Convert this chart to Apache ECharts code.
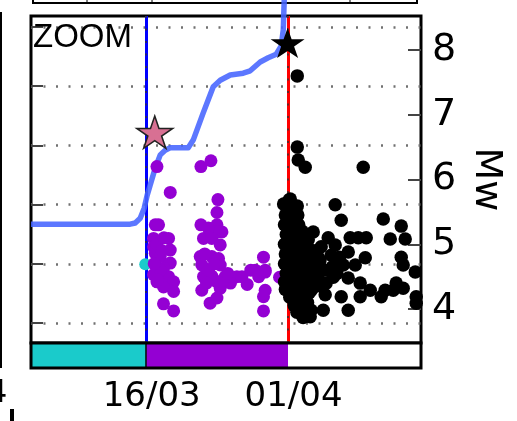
<!DOCTYPE html>
<html><head><meta charset="utf-8">
<script src="https://cdn.jsdelivr.net/npm/echarts@6/dist/echarts.min.js"></script>
<style>html,body{margin:0;padding:0;background:#fff}#c{width:517px;height:421px}</style>
</head><body><div id="c"></div>
<script>
// x values are days since 01/03 00:00 (16/03 = 15, 01/04 = 31)
const dayMin = 2, dayMax = 46;
const xTickDays = [15, 31];
const xTickLabels = ['16/03', '01/04'];
const mwMin = 3.475, mwMax = 8.525;
const mwTicks = [4, 5, 6, 7, 8];
const momentMin = 15.662, momentMax = 21.186;
const momentTicks = [16, 17, 18, 19, 20, 21];
const phaseBounds = [2, 15, 31, 46];
const phaseColors = ['#1acbcb', '#9400d3', '#ffffff'];

// cumulative (log) seismic moment curve
const cumDays = [2.0, 13.19, 13.76, 14.32, 14.77, 15.11, 15.45, 16.02, 16.58, 17.14, 17.71, 19.74, 20.30, 21.43, 22.56, 23.35, 24.48, 25.94, 26.73, 27.86, 28.76, 29.67, 30.23, 30.46, 30.57];
const cumMoment = [17.67, 17.67, 17.69, 17.77, 17.94, 18.16, 18.33, 18.62, 18.84, 18.92, 18.96, 18.96, 19.09, 19.55, 19.99, 20.10, 20.19, 20.22, 20.26, 20.41, 20.48, 20.54, 20.68, 20.95, 21.46];

// events [day, Mw]
const backgroundEvents = [[14.89, 4.69]];
const foreshockEvents = [
  [16.21,6.20],[21.17,6.20],[22.30,6.29],[17.71,5.80],[23.09,5.69],[22.98,5.49],
  [16.02,5.30],[16.39,5.30],[21.17,5.30],[22.98,5.30],[23.54,5.19],[23.12,5.19],
  [15.83,5.09],[17.52,5.09],[21.46,5.09],[22.40,5.09],[15.83,4.96],[23.35,4.99],
  [17.71,4.91],[16.02,4.86],[16.58,4.81],[21.09,4.81],[22.40,4.81],[23.16,4.78],
  [28.23,4.80],[17.71,4.71],[16.02,4.68],[21.27,4.68],[23.35,4.68],[16.95,4.63],
  [27.31,4.60],[28.42,4.60],[28.42,4.57],[15.83,4.53],[17.52,4.50],[21.46,4.50],
  [22.40,4.51],[23.91,4.50],[25.23,4.50],[27.69,4.50],[30.04,4.49],[16.21,4.42],
  [18.09,4.42],[22.98,4.42],[24.51,4.40],[26.39,4.38],[16.95,4.34],[21.27,4.29],
  [23.35,4.32],[18.09,4.27],[28.42,4.29],[28.23,4.19],[22.21,4.09],[22.98,4.17],
  [16.95,4.08],[18.09,3.97],[28.23,3.97],
  [16.2,5.0],[16.6,4.6],[16.3,4.45],[17.0,5.1],[15.9,4.7],[16.8,4.9],[21.6,4.85],
  [22.0,4.6],[21.8,4.4],[22.7,4.7],[23.7,4.45],[22.0,5.25],[24.2,4.55],[25.8,4.5],[26.8,4.6]
];
const aftershockEvents = [
  [32.04,7.60],[32.04,6.50],[32.15,6.30],[32.94,6.19],[39.48,6.19],[31.25,5.70],[32.04,5.59],[36.32,5.61],
  [37.00,5.37],[41.74,5.39],[43.77,5.28],[33.84,5.19],[35.53,5.10],[38.01,5.10],[38.92,5.10],[39.82,5.10],
  [42.53,5.08],[44.22,5.08],[33.28,5.07],[34.74,4.96],[36.32,4.99],[37.79,4.88],[34.40,4.80],[35.87,4.83],
  [39.71,4.79],[43.77,4.80],[43.99,4.68],[38.58,4.68],[37.22,4.68],[34.74,4.63],[45.35,4.57],[36.10,4.49],
  [37.79,4.48],[34.40,4.45],[39.14,4.40],[43.20,4.40],[40.27,4.29],[41.96,4.29],[42.87,4.29],[43.99,4.32],
  [45.46,4.19],[45.46,4.09],[37.00,4.19],[39.14,4.19],[41.51,4.19],[35.19,4.22],[33.61,4.29],[33.61,3.98],
  [34.97,3.98],[37.79,3.98],[33.50,3.88],
  [30.5,5.62],[30.7,5.45],[30.6,5.30],[30.8,5.15],[30.6,5.00],[30.7,4.85],[30.6,4.70],[30.8,4.55],[30.6,4.42],[30.7,4.30],
  [31.1,5.68],[31.2,5.50],[31.1,5.35],[31.3,5.20],[31.1,5.05],[31.2,4.90],[31.1,4.75],[31.3,4.60],[31.2,4.45],[31.1,4.32],[31.2,4.18],
  [31.6,5.55],[31.7,5.40],[31.6,5.25],[31.8,5.10],[31.6,4.95],[31.7,4.80],[31.6,4.65],[31.8,4.50],[31.7,4.35],[31.6,4.20],[31.7,4.05],
  [32.1,5.45],[32.2,5.30],[32.0,5.15],[32.3,5.00],[32.1,4.85],[32.2,4.70],[32.0,4.55],[32.3,4.40],[32.1,4.25],[32.2,4.10],[32.0,3.95],
  [32.6,5.20],[32.7,5.05],[32.5,4.90],[32.8,4.75],[32.6,4.60],[32.7,4.45],[32.5,4.30],[32.8,4.15],[32.6,4.00],[32.7,3.87],
  [33.1,5.00],[33.3,4.85],[33.1,4.70],[33.4,4.55],[33.2,4.40],[33.4,4.25],[33.2,4.10],
  [33.9,4.90],[34.0,4.70],[33.8,4.50],[34.1,4.35],[34.6,4.75],[34.3,4.55],[35.0,4.60],[34.8,4.35],
  [35.6,4.60],[35.3,4.40],[36.0,4.65],[36.5,4.55],[36.8,4.80]
];
const foreshockStar = [[15.96, 6.73]];
const mainshockStar = [[30.95, 8.11]];

const starPath = 'path://M0,-1 L0.2245,-0.309 L0.951,-0.309 L0.363,0.118 L0.588,0.809 L0,0.382 L-0.588,0.809 L-0.363,0.118 L-0.951,-0.309 L-0.2245,-0.309 Z';
const F = 'DejaVu Sans';

const chart = echarts.init(document.getElementById('c'), null, {renderer: 'canvas'});
chart.setOption({
  animation: false,
  backgroundColor: '#fff',
  grid: [
    {left: 31, right: 96, top: 16, height: 327, show: true, borderColor: '#000', borderWidth: 3, backgroundColor: 'transparent'},
    {left: 31, right: 96, top: 343, height: 25, show: true, borderColor: '#000', borderWidth: 3, backgroundColor: 'transparent', z: 5}
  ],
  xAxis: [
    {gridIndex: 0, type: 'value', min: dayMin, max: dayMax, axisLine: {show: false}, axisTick: {show: false}, axisLabel: {show: false}, splitLine: {show: false}},
    {gridIndex: 1, type: 'value', min: dayMin, max: dayMax, position: 'bottom',
     axisLine: {show: false}, axisTick: {show: false}, splitLine: {show: false},
     axisLabel: {customValues: xTickDays, margin: 12, fontFamily: F, fontSize: 34, color: '#000', padding: [0, 0, 0, 11],
       formatter: v => { const i = xTickDays.indexOf(v); return i >= 0 ? xTickLabels[i] : ''; }}}
  ],
  yAxis: [
    {gridIndex: 0, type: 'value', position: 'left', min: momentMin, max: momentMax,
     axisLine: {show: false}, axisLabel: {show: false},
     axisTick: {show: true, inside: true, length: 12, customValues: momentTicks, lineStyle: {color: '#444', width: 2}},
     splitLine: {show: true, lineStyle: {color: '#707070', width: 2.5, type: [2, 10.5]}}},
    {gridIndex: 0, type: 'value', position: 'right', min: mwMin, max: mwMax,
     axisLine: {show: false}, splitLine: {show: false},
     axisTick: {show: true, inside: true, length: 13, customValues: mwTicks, lineStyle: {color: '#444', width: 2}},
     axisLabel: {customValues: mwTicks, margin: 11, fontFamily: F, fontSize: 38, color: '#000'},
     name: 'Mw', nameLocation: 'middle', nameRotate: -90, nameGap: 46,
     nameTextStyle: {fontFamily: F, fontSize: 38, color: '#000'}},
    {gridIndex: 1, type: 'value', min: 0, max: 1, show: false}
  ],
  graphic: [
    {type: 'text', left: 33, top: 21, style: {text: 'ZOOM', font: '33px "Liberation Sans"', fill: '#000'}, z: 100},
    {type: 'polyline', shape: {points: [[33, -5], [33, 3], [417, 3], [417, -5]]}, style: {stroke: '#000', lineWidth: 2, fill: null}},
    {type: 'line', shape: {x1: 87, y1: -5, x2: 87, y2: 3}, style: {stroke: '#000', lineWidth: 1}},
    {type: 'line', shape: {x1: 152, y1: -5, x2: 152, y2: 3}, style: {stroke: '#000', lineWidth: 1}},
    {type: 'line', shape: {x1: 350, y1: -5, x2: 350, y2: 3}, style: {stroke: '#000', lineWidth: 1}},
    {type: 'line', shape: {x1: 1, y1: 12, x2: 1, y2: 368}, style: {stroke: '#000', lineWidth: 2}},
    {type: 'text', left: -13, top: 378, style: {text: '4', font: '32px "DejaVu Sans"', fill: '#000'}},
    {type: 'rect', shape: {x: 10, y: 409, width: 4, height: 12}, style: {fill: '#000'}}
  ],
  series: [
    {type: 'line', xAxisIndex: 0, yAxisIndex: 1, data: [], z: 1, silent: true,
     markLine: {silent: true, symbol: 'none', z: 1, label: {show: false}, animation: false,
       data: [
         {xAxis: xTickDays[0], lineStyle: {color: '#0000ff', width: 3, type: 'solid'}},
         {xAxis: xTickDays[1], lineStyle: {color: '#ff0000', width: 3, type: 'solid'}},
         {xAxis: xTickDays[0], lineStyle: {color: '#333', width: 1.5, type: [2, 10.5]}},
         {xAxis: xTickDays[1], lineStyle: {color: '#333', width: 1.5, type: [2, 10.5]}}
       ]}},
    {type: 'line', xAxisIndex: 0, yAxisIndex: 0, z: 2, clip: false, symbol: 'none', silent: true,
     data: cumDays.map((d, i) => [d, cumMoment[i]]),
     lineStyle: {color: 'rgba(70,100,255,0.88)', width: 5.5, join: 'round'}},
    {type: 'scatter', xAxisIndex: 0, yAxisIndex: 1, z: 3, symbolSize: 12, data: backgroundEvents, itemStyle: {color: '#1acbcb', opacity: 1}},
    {type: 'scatter', xAxisIndex: 0, yAxisIndex: 1, z: 3, symbolSize: 13, data: foreshockEvents, itemStyle: {color: '#9400d3', opacity: 1}},
    {type: 'scatter', xAxisIndex: 0, yAxisIndex: 1, z: 3, symbolSize: 13.5, data: aftershockEvents, itemStyle: {color: '#000', opacity: 1}},
    {type: 'scatter', xAxisIndex: 0, yAxisIndex: 1, z: 4, clip: false, symbol: starPath, symbolKeepAspect: true, symbolSize: [36, 34],
     data: foreshockStar, itemStyle: {color: '#d87093', borderColor: '#222', borderWidth: 1.5, opacity: 1}},
    {type: 'scatter', xAxisIndex: 0, yAxisIndex: 1, z: 4, clip: false, symbol: starPath, symbolKeepAspect: true, symbolSize: [34, 32],
     data: mainshockStar, itemStyle: {color: '#000', opacity: 1}},
    {type: 'line', xAxisIndex: 1, yAxisIndex: 2, data: [], silent: true,
     markArea: {silent: true, label: {show: false},
       data: phaseColors.map((c, i) => [{xAxis: phaseBounds[i], itemStyle: {color: c, opacity: 1}}, {xAxis: phaseBounds[i + 1]}])},
     markLine: {silent: true, symbol: 'none', label: {show: false},
       data: [{xAxis: phaseBounds[1], lineStyle: {color: '#000', width: 1.5, type: 'solid'}}]}}
  ]
});
</script></body></html>
